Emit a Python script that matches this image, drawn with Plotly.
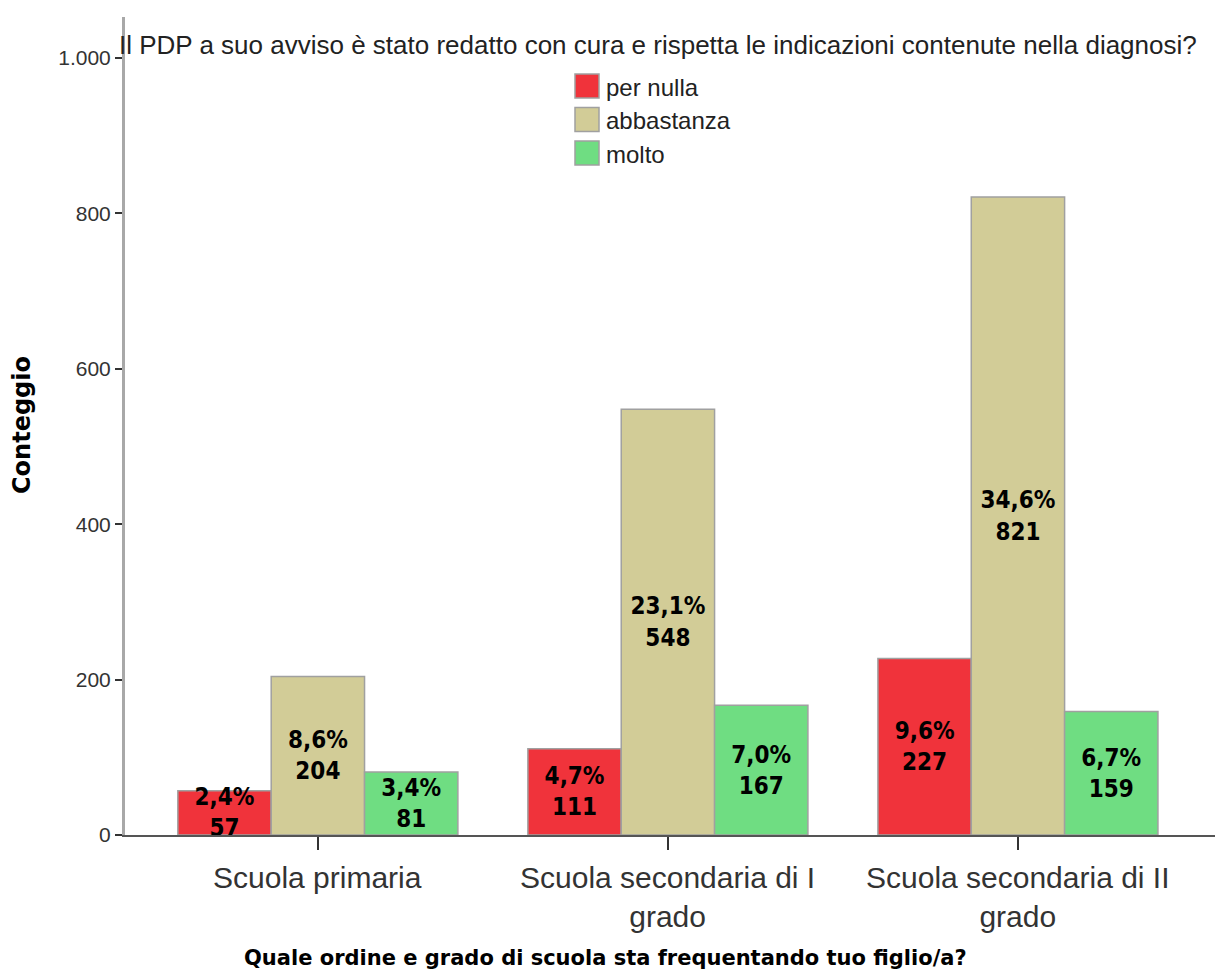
import plotly.graph_objects as go

# Survey counts by school level and response
categories = ["Scuola primaria", "Scuola secondaria di I<br>grado", "Scuola secondaria di II<br>grado"]
responses = ["per nulla", "abbastanza", "molto"]
counts = {
    "per nulla": [57, 111, 227],
    "abbastanza": [204, 548, 821],
    "molto": [81, 167, 159],
}
percents = {
    "per nulla": ["2,4%", "4,7%", "9,6%"],
    "abbastanza": ["8,6%", "23,1%", "34,6%"],
    "molto": ["3,4%", "7,0%", "6,7%"],
}
colors = {"per nulla": "#F0333B", "abbastanza": "#D2CC97", "molto": "#6FDD82"}

y_ticks = [0, 200, 400, 600, 800, 1000]
y_tick_labels = ["0", "200", "400", "600", "800", "1.000"]

chart_title = "Il PDP a suo avviso è stato redatto con cura e rispetta le indicazioni contenute nella diagnosi?"
x_title = "Quale ordine e grado di scuola sta frequentando tuo figlio/a?"
y_title = "Conteggio"

FIG_W, FIG_H = 1216, 978
M_L, M_R, M_T, M_B = 125, 1, 17, 143
PLOT_W = FIG_W - M_L - M_R
PLOT_H = FIG_H - M_T - M_B


def px_x(px):
    """Horizontal pixel position -> paper coordinate."""
    return (px - M_L) / PLOT_W


def px_y(py):
    """Vertical pixel position (from top) -> paper coordinate."""
    return (FIG_H - M_B - py) / PLOT_H


label_font = dict(family="DejaVu Sans Condensed, Liberation Sans Narrow, Liberation Sans, sans-serif",
                  size=24, color="#000000", weight="bold")

fig = go.Figure()
for r in responses:
    fig.add_trace(go.Bar(
        name=r,
        x=list(range(len(categories))),
        y=counts[r],
        text=[f"{p}<br>{c}" for p, c in zip(percents[r], counts[r])],
        textposition="inside",
        insidetextanchor="middle",
        constraintext="none",
        textangle=0,
        textfont=label_font,
        marker=dict(color=colors[r], line=dict(color="#A0A0A0", width=1.5)),
        showlegend=False,
    ))

# Legend: colour swatches with labels
for i, r in enumerate(responses):
    top = 74 + 33.5 * i
    fig.add_shape(type="rect", xref="paper", yref="paper",
                  x0=px_x(575), x1=px_x(599), y0=px_y(top + 24), y1=px_y(top),
                  fillcolor=colors[r], line=dict(color="#A0A0A0", width=1.5))
    fig.add_annotation(text=r, xref="paper", yref="paper", x=px_x(604), y=px_y(top + 13),
                       xanchor="left", yanchor="middle", showarrow=False,
                       font=dict(family="Liberation Sans, Arial, sans-serif", size=24, color="#222"))

# Chart title
fig.add_annotation(text=chart_title, xref="paper", yref="paper", x=px_x(658), y=px_y(45),
                   xanchor="center", yanchor="middle", showarrow=False,
                   font=dict(family="Liberation Sans, Arial, sans-serif", size=26, color="#222"))

# Category labels below the axis
for i, label in enumerate(categories):
    fig.add_annotation(text=label, x=i, xref="x", yref="paper", y=px_y(859),
                       xanchor="center", yanchor="top", showarrow=False,
                       font=dict(family="Liberation Sans, Arial, sans-serif", size=30, color="#333"))

# Axis titles
fig.add_annotation(text=x_title, xref="paper", yref="paper", x=px_x(605), y=px_y(958),
                   xanchor="center", yanchor="middle", showarrow=False,
                   font=dict(family="DejaVu Sans, sans-serif", size=21, color="#000", weight="bold"))
fig.add_annotation(text=y_title, xref="paper", yref="paper", x=px_x(22), y=px_y(425),
                   xanchor="center", yanchor="middle", showarrow=False, textangle=-90,
                   font=dict(family="DejaVu Sans, sans-serif", size=24, color="#000", weight="bold"))

fig.update_layout(
    width=FIG_W, height=FIG_H,
    margin=dict(l=M_L, r=M_R, t=M_T, b=M_B),
    paper_bgcolor="white", plot_bgcolor="white",
    barmode="group", bargap=0.2, bargroupgap=0,
    showlegend=False,
    font=dict(family="Liberation Sans, Arial, sans-serif"),
)

fig.update_xaxes(
    range=[-0.551, 2.563],
    tickvals=list(range(len(categories))), showticklabels=False,
    ticks="outside", ticklen=13, tickwidth=1.5, tickcolor="#333",
    showline=True, linecolor="#555", linewidth=1.5,
    showgrid=False, zeroline=False,
)
fig.update_yaxes(
    range=[0, 1052.6],
    tickvals=y_ticks, ticktext=y_tick_labels,
    ticks="outside", ticklen=7, tickwidth=1.5, tickcolor="#333",
    showline=True, linecolor="#A8A8A8", linewidth=3,
    showgrid=False, zeroline=False,
    tickfont=dict(family="Liberation Sans, Arial, sans-serif", size=21, color="#333"),
)

fig.write_html("out.html")
